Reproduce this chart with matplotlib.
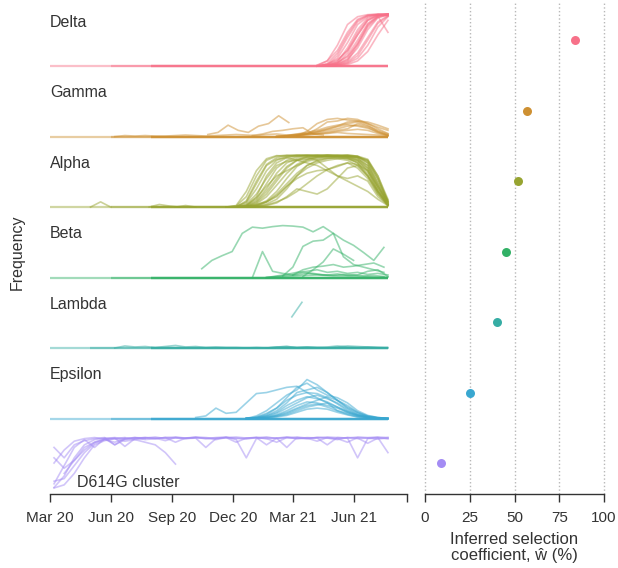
import numpy as np
import matplotlib.pyplot as plt

plt.rcParams['font.family'] = ['Liberation Sans', 'DejaVu Sans']

# ---- data ----
variants = ['Delta', 'Gamma', 'Alpha', 'Beta', 'Lambda', 'Epsilon', 'D614G cluster']
colors = ['#f77189', '#ce9032', '#97a431', '#32b166', '#36ada4', '#39a7d0', '#a48cf4']
selection = [84, 57, 52, 45, 40, 25, 9]   # inferred selection coefficient (%)

tick_dates = ['2020-03-01', '2020-06-01', '2020-09-01', '2020-12-01', '2021-03-01', '2021-06-01']
tick_labels = ['Mar 20', 'Jun 20', 'Sep 20', 'Dec 20', 'Mar 21', 'Jun 21']

# time in months since 1 Mar 2020, trajectories sampled every half month
step = 0.5
data_end = 16.7

# month at which regions start being tracked (frequency 0 baseline)
delta_track = [0, 3, 5, 5, 5]
gamma_track = [0, 3, 5, 5, 5]
alpha_track = [0, 3, 5, 5, 5]
beta_track = [0, 3, 5, 5, 5]
lambda_track = [0, 2, 5, 5, 5]
epsilon_track = [0, 3, 5, 5, 5]
d614g_track = []

delta_start = [13.2] * 18
delta_freq = [
    [0.02, 0.1, 0.3, 0.65, 0.9, 0.98, 1.0, 1.0],
    [0.01, 0.1, 0.4, 0.8, 0.95, 0.99, 1.0, 1.0],
    [0, 0.05, 0.25, 0.6, 0.88, 0.97, 0.99, 1.0],
    [0, 0.03, 0.15, 0.45, 0.8, 0.95, 0.99, 0.97],
    [0, 0.02, 0.1, 0.3, 0.65, 0.9, 0.98, 1.0],
    [0, 0.01, 0.06, 0.2, 0.5, 0.82, 0.96, 0.65],
    [0, 0, 0.04, 0.12, 0.35, 0.7, 0.93, 0.99],
    [0, 0, 0.02, 0.08, 0.25, 0.55, 0.85, 0.97],
    [0, 0, 0.01, 0.05, 0.15, 0.4, 0.75, 0.95],
    [0, 0, 0.01, 0.03, 0.1, 0.28, 0.6, 0.88],
    [0, 0.04, 0.12, 0.3, 0.6, 0.88, 0.97, 1.0],
    [0, 0.01, 0.08, 0.35, 0.7, 0.93, 0.99, 0.98],
    [0, 0.02, 0.2, 0.55, 0.85, 0.97, 0.99, 1.0],
    [0, 0.01, 0.05, 0.25, 0.6, 0.88, 0.98, 0.99],
    [0, 0, 0.03, 0.1, 0.4, 0.78, 0.95, 1.0],
    [0, 0.02, 0.07, 0.18, 0.42, 0.75, 0.94, 0.98],
    [0, 0, 0.02, 0.06, 0.2, 0.5, 0.82, 0.96],
    [0, 0.01, 0.04, 0.14, 0.45, 0.8, 0.96, 0.99],
]

gamma_start = [7.8, 10.0, 12.2, 12.2, 11.2, 11.2, 11.2, 11.2, 3.2, 11.2, 11.2]
gamma_freq = [
    [0.04, 0.08, 0.22, 0.12, 0.08, 0.2, 0.25, 0.4, 0.27],
    [0.02, 0.05, 0.1, 0.12, 0.15, 0.17, 0.05, 0.03],
    [0.02, 0.1, 0.25, 0.33, 0.35, 0.32, 0.3, 0.28, 0.22, 0.15],
    [0.01, 0.05, 0.15, 0.28, 0.3, 0.35, 0.33, 0.25, 0.18, 0.12],
    [0, 0.02, 0.05, 0.08, 0.12, 0.18, 0.22, 0.25, 0.28, 0.22, 0.1, 0.03],
    [0, 0.01, 0.03, 0.05, 0.08, 0.12, 0.15, 0.2, 0.22, 0.18, 0.08, 0.02],
    [0, 0.01, 0.02, 0.04, 0.06, 0.09, 0.12, 0.15, 0.25, 0.2, 0.12, 0.05],
    [0, 0, 0.02, 0.03, 0.05, 0.07, 0.1, 0.12, 0.14, 0.12, 0.06, 0.02],
    [0, 0.02, 0.01, 0.02, 0.01, 0.01, 0.02, 0.03, 0.02, 0.01, 0.02, 0.03, 0.04, 0.03,
     0.02, 0.04, 0.05, 0.03, 0.04, 0.06, 0.05, 0.06, 0.08, 0.06, 0.05, 0.04, 0.03, 0.01],
    [0, 0.01, 0.02, 0.05, 0.09, 0.14, 0.19, 0.23, 0.2, 0.16, 0.09, 0.03],
    [0, 0.02, 0.04, 0.06, 0.1, 0.15, 0.2, 0.28, 0.3, 0.25, 0.15, 0.06],
]

alpha_start = [8.7] * 20 + [2.0, 4.9, 6.2]
alpha_freq = [
    [0, 0.02, 0.2, 0.6, 0.9, 0.98, 1.0, 1.0, 1.0, 0.99, 1.0, 0.99, 0.98, 0.95, 0.8, 0.4, 0.05],
    [0, 0.01, 0.08, 0.35, 0.7, 0.9, 0.97, 0.99, 1.0, 1.0, 0.99, 0.98, 0.97, 0.9, 0.7, 0.3, 0.03],
    [0, 0, 0.03, 0.15, 0.45, 0.75, 0.9, 0.96, 0.98, 0.99, 0.98, 0.97, 0.95, 0.85, 0.6, 0.25, 0.02],
    [0, 0, 0.01, 0.08, 0.25, 0.5, 0.75, 0.9, 0.95, 0.97, 0.98, 0.96, 0.93, 0.88, 0.7, 0.35, 0.08],
    [0, 0, 0, 0.04, 0.12, 0.3, 0.55, 0.78, 0.9, 0.95, 0.97, 0.98, 0.96, 0.92, 0.8, 0.45, 0.1],
    [0, 0, 0, 0.02, 0.06, 0.15, 0.35, 0.6, 0.8, 0.9, 0.94, 0.95, 0.93, 0.85, 0.65, 0.3, 0.05],
    [0, 0, 0, 0.01, 0.03, 0.08, 0.2, 0.35, 0.3, 0.25, 0.35, 0.55, 0.75, 0.8, 0.6, 0.3, 0.05],
    [0, 0.01, 0.1, 0.45, 0.8, 0.92, 0.95, 0.9, 0.85, 0.8, 0.7, 0.6, 0.5, 0.4, 0.3, 0.15, 0.03],
    [0, 0, 0.01, 0.05, 0.1, 0.2, 0.4, 0.6, 0.75, 0.85, 0.9, 0.93, 0.95, 0.9, 0.75, 0.4, 0.1],
    [0, 0, 0.05, 0.25, 0.55, 0.8, 0.88, 0.9, 0.92, 0.95, 0.97, 0.99, 1.0, 0.98, 0.85, 0.5, 0.12],
    [0, 0, 0.02, 0.12, 0.35, 0.65, 0.85, 0.93, 0.96, 0.9, 0.75, 0.6, 0.55, 0.6, 0.5, 0.2, 0.04],
    [0, 0, 0, 0.03, 0.1, 0.22, 0.4, 0.55, 0.65, 0.7, 0.72, 0.78, 0.85, 0.75, 0.55, 0.25, 0.05],
    [0, 0.03, 0.3, 0.7, 0.93, 0.99, 0.98, 1.0, 0.99, 0.98, 0.99, 1.0, 0.99, 0.97, 0.9, 0.55, 0.08],
    [0, 0, 0.12, 0.5, 0.82, 0.95, 0.99, 0.98, 0.99, 1.0, 0.98, 0.99, 0.97, 0.96, 0.85, 0.45, 0.06],
    [0, 0, 0.02, 0.2, 0.6, 0.85, 0.95, 0.98, 0.99, 0.98, 1.0, 0.99, 0.98, 0.94, 0.75, 0.35, 0.04],
    [0, 0, 0.01, 0.06, 0.2, 0.42, 0.65, 0.82, 0.92, 0.97, 0.99, 0.98, 0.99, 0.97, 0.88, 0.55, 0.12],
    [0, 0, 0, 0.02, 0.1, 0.25, 0.45, 0.65, 0.8, 0.88, 0.93, 0.97, 0.98, 0.96, 0.9, 0.6, 0.15],
    [0, 0, 0.04, 0.18, 0.4, 0.6, 0.7, 0.8, 0.88, 0.92, 0.95, 0.93, 0.9, 0.8, 0.6, 0.3, 0.06],
    [0, 0, 0, 0.01, 0.04, 0.1, 0.18, 0.3, 0.45, 0.6, 0.72, 0.8, 0.85, 0.82, 0.7, 0.4, 0.08],
    [0, 0, 0.01, 0.1, 0.3, 0.55, 0.78, 0.9, 0.97, 0.99, 1.0, 0.99, 1.0, 0.98, 0.92, 0.6, 0.1],
    [0, 0.1, 0],
    [0, 0.05, 0.02, 0],
    [0, 0.03, 0],
]

beta_start = [7.5, 10.0, 11.5, 12.5, 12.0, 10.7, 10.7, 10.7]
beta_freq = [
    [0.17, 0.33, 0.42, 0.5, 0.85, 0.97, 0.95, 0.98, 1.0, 0.99, 0.97, 0.88, 0.98, 0.85,
     0.72, 0.62, 0.48, 0.33, 0.58],
    [0.0, 0.5, 0.12, 0.08, 0.05, 0.1, 0.08, 0.05, 0.04, 0.06, 0.05, 0.03, 0.04, 0.02],
    [0.03, 0.2, 0.6, 0.7, 0.72, 0.85, 0.4, 0.25, 0.2, 0.15, 0.1],
    [0.02, 0.15, 0.3, 0.55, 0.45, 0.33],
    [0.05, 0.15, 0.2, 0.22, 0.25, 0.2, 0.22, 0.25, 0.28, 0.2],
    [0, 0.03, 0.06, 0.1, 0.12, 0.15, 0.1, 0.12, 0.08, 0.1, 0.06, 0.08, 0.05],
    [0, 0.02, 0.04, 0.05, 0.08, 0.06, 0.05, 0.07, 0.04, 0.05, 0.12, 0.15, 0.02],
    [0, 0.01, 0.02, 0.03, 0.04, 0.05, 0.04, 0.03, 0.03, 0.02, 0.02, 0.01, 0.01],
]

lambda_start = [11.95, 3.2, 10.7]
lambda_freq = [
    [0.6, 0.88],
    [0.0, 0.04, 0.02, 0.03, 0.01, 0.03, 0.05, 0.02, 0.03, 0.01, 0.02, 0.01, 0.01, 0.0,
     0.01, 0.0, 0.02, 0.03, 0.01, 0.02, 0.01, 0.02, 0.04, 0.02, 0.01, 0.02, 0.01, 0.0],
    [0, 0.02, 0.03, 0.01, 0.02, 0.01, 0.0, 0.02, 0.04, 0.03, 0.02, 0.01, 0.01],
]

epsilon_start = [7.2] + [9.7] * 11
epsilon_freq = [
    [0.02, 0.05, 0.2, 0.1, 0.12, 0.3, 0.48, 0.5, 0.55, 0.6, 0.62, 0.5, 0.4, 0.3, 0.15,
     0.08, 0.03, 0.01, 0],
    [0, 0.05, 0.15, 0.3, 0.45, 0.55, 0.75, 0.65, 0.5, 0.35, 0.22, 0.12, 0.05, 0.02, 0],
    [0, 0.03, 0.1, 0.2, 0.4, 0.6, 0.68, 0.55, 0.45, 0.4, 0.3, 0.15, 0.06, 0.02, 0],
    [0, 0.02, 0.06, 0.15, 0.3, 0.5, 0.55, 0.6, 0.5, 0.35, 0.2, 0.1, 0.04, 0.01, 0],
    [0, 0.01, 0.04, 0.1, 0.2, 0.3, 0.4, 0.45, 0.38, 0.3, 0.18, 0.08, 0.03, 0.01, 0],
    [0, 0.01, 0.03, 0.07, 0.15, 0.25, 0.32, 0.3, 0.25, 0.2, 0.12, 0.06, 0.02, 0.01, 0],
    [0, 0, 0.02, 0.05, 0.1, 0.18, 0.25, 0.28, 0.22, 0.15, 0.1, 0.05, 0.02, 0, 0],
    [0, 0, 0.01, 0.03, 0.06, 0.12, 0.18, 0.2, 0.18, 0.12, 0.07, 0.03, 0.01, 0, 0],
    [0, 0.02, 0.08, 0.2, 0.35, 0.45, 0.5, 0.48, 0.4, 0.28, 0.15, 0.07, 0.03, 0.01, 0],
    [0, 0.01, 0.05, 0.12, 0.25, 0.35, 0.42, 0.38, 0.32, 0.22, 0.12, 0.05, 0.02, 0, 0],
    [0, 0, 0.01, 0.04, 0.08, 0.15, 0.22, 0.26, 0.3, 0.22, 0.14, 0.07, 0.03, 0.01, 0],
    [0, 0.01, 0.02, 0.06, 0.12, 0.2, 0.28, 0.35, 0.42, 0.35, 0.25, 0.12, 0.04, 0.01, 0],
]

d614g_start = [0.2, 0.2, 0.2, 0.2, 0.2, 0.7, 0.2, 0.2]
d614g_freq = [
    [0.03, 0.25, 0.6, 0.85, 0.95, 0.98, 0.97, 0.99, 0.95, 0.98, 1.0, 0.97, 0.99, 0.98,
     1.0, 0.99, 0.97, 0.99, 1.0, 0.98, 0.99, 1.0, 0.97, 0.99, 1.0, 0.98, 0.99, 1.0,
     0.99, 0.98, 1.0, 0.99, 1.0, 0.99],
    [0.1, 0.45, 0.8, 0.95, 0.8, 0.97, 0.99, 0.96, 0.98, 0.99, 0.97, 0.99, 1.0, 0.98,
     0.99, 0.97, 0.99, 1.0, 0.95, 0.6, 0.97, 0.99, 0.98, 1.0, 0.97, 0.99, 0.98, 0.85,
     0.99, 0.98, 0.6, 0.97, 0.99, 0.7],
    [0.5, 0.75, 0.92, 0.97, 0.99, 0.96, 0.98, 0.82, 0.97, 0.99, 0.98, 0.93, 0.99, 0.97,
     0.98, 0.8, 0.97, 0.99, 0.98, 0.96, 0.99, 0.85, 0.98, 0.99, 0.97, 0.98, 0.92, 0.99,
     0.97, 0.99, 0.98, 0.88, 0.98, 0.97],
    [0.02, 0.08, 0.3, 0.6, 0.85, 0.93, 0.97, 0.92, 0.95, 0.9, 0.85, 0.7, 0.48],
    [0.8, 0.6, 0.85, 0.93, 0.97, 0.99, 0.85, 0.97, 0.99, 0.98, 0.97, 0.99, 0.9, 0.98,
     0.99, 0.97, 0.98, 0.99, 0.9, 0.98, 0.99, 0.97, 0.98, 0.8, 0.99, 0.97, 0.99, 0.98,
     0.97, 0.9, 0.99, 0.98, 0.96, 0.99],
    [0.3, 0.55, 0.75, 0.9, 0.95, 0.9, 0.97, 0.99, 0.95, 0.97, 0.99, 0.98, 0.97, 0.99,
     0.98, 0.95, 0.99, 0.97, 0.98, 0.99, 0.97, 0.9, 0.99, 0.98, 0.97, 0.99, 0.98, 0.95,
     0.99, 0.97, 0.98, 0.99, 0.97],
    [0.15, 0.2, 0.45, 0.7, 0.88, 0.95, 0.97, 0.98],
    [0.6, 0.4, 0.55, 0.8, 0.9, 0.97, 0.85, 0.95, 0.98, 0.97],
]

tracks = [delta_track, gamma_track, alpha_track, beta_track, lambda_track, epsilon_track, d614g_track]
starts = [delta_start, gamma_start, alpha_start, beta_start, lambda_start, epsilon_start, d614g_start]
freqs = [delta_freq, gamma_freq, alpha_freq, beta_freq, lambda_freq, epsilon_freq, d614g_freq]

# ---- layout ----
days_per_month = 30.44
row_gap = 1.356
x_end = 537  # days after 1 Mar 2020
ylim = (-0.096, 9.35)
text_col = '#333333'

t0 = np.datetime64('2020-03-01')
tick_days = [(np.datetime64(d) - t0).astype(int) for d in tick_dates]

fig = plt.figure(figsize=(6.18, 5.68), dpi=100)
ax = fig.add_axes([50 / 618, 74 / 568, 357 / 618, 491 / 568])
ax2 = fig.add_axes([423.2 / 618, 74 / 568, 182.6 / 618, 491 / 568])

for k, name in enumerate(variants):
    base = (6 - k) * row_gap
    col = colors[k]
    for s in tracks[k]:
        ax.plot(np.array([s, data_end]) * days_per_month, [base, base],
                color=col, lw=1.6, alpha=0.45, solid_capstyle='butt')
    for s, f in zip(starts[k], freqs[k]):
        m = s + step * np.arange(len(f))
        ax.plot(m * days_per_month, base + np.array(f), color=col, lw=1.2, alpha=0.5)
    if k < 6:
        ax.text(0, base + 0.84, name, fontsize=11.5, color=text_col, va='center', ha='left')
    else:
        ax.text(1.33 * days_per_month, base + 0.13, name, fontsize=11.5, color=text_col,
                va='center', ha='left')
    ax2.scatter(selection[k], base + 0.5, s=42, color=col, zorder=3, linewidths=0)

ax.set_xlim(0, x_end)
ax.set_ylim(*ylim)
ax.set_xticks(tick_days + [x_end])
ax.set_xticklabels(tick_labels + [''])
ax.set_yticks([])
for sp in ['left', 'top', 'right']:
    ax.spines[sp].set_visible(False)

ax2.set_xlim(-1, 101)
ax2.set_ylim(*ylim)
ax2.set_xticks([0, 25, 50, 75, 100])
ax2.set_yticks([])
ax2.spines['bottom'].set_bounds(0, 100)
for sp in ['left', 'top', 'right']:
    ax2.spines[sp].set_visible(False)
ax2.xaxis.grid(True, ls=':', color='#b8b8b8', lw=1.0)
ax2.set_axisbelow(True)
ax2.set_xlabel('Inferred selection\ncoefficient, ŵ (%)', fontsize=12, color=text_col,
               labelpad=5, linespacing=1.15)

for a in (ax, ax2):
    a.spines['bottom'].set_color(text_col)
    a.spines['bottom'].set_linewidth(1.0)
    a.tick_params(axis='x', length=6, width=1.0, color=text_col, labelsize=11,
                  labelcolor=text_col, pad=6)

fig.text(0.028, 0.556, 'Frequency', rotation=90, fontsize=11.5, color=text_col,
         va='center', ha='center')

fig.savefig('out.png', dpi=100)
